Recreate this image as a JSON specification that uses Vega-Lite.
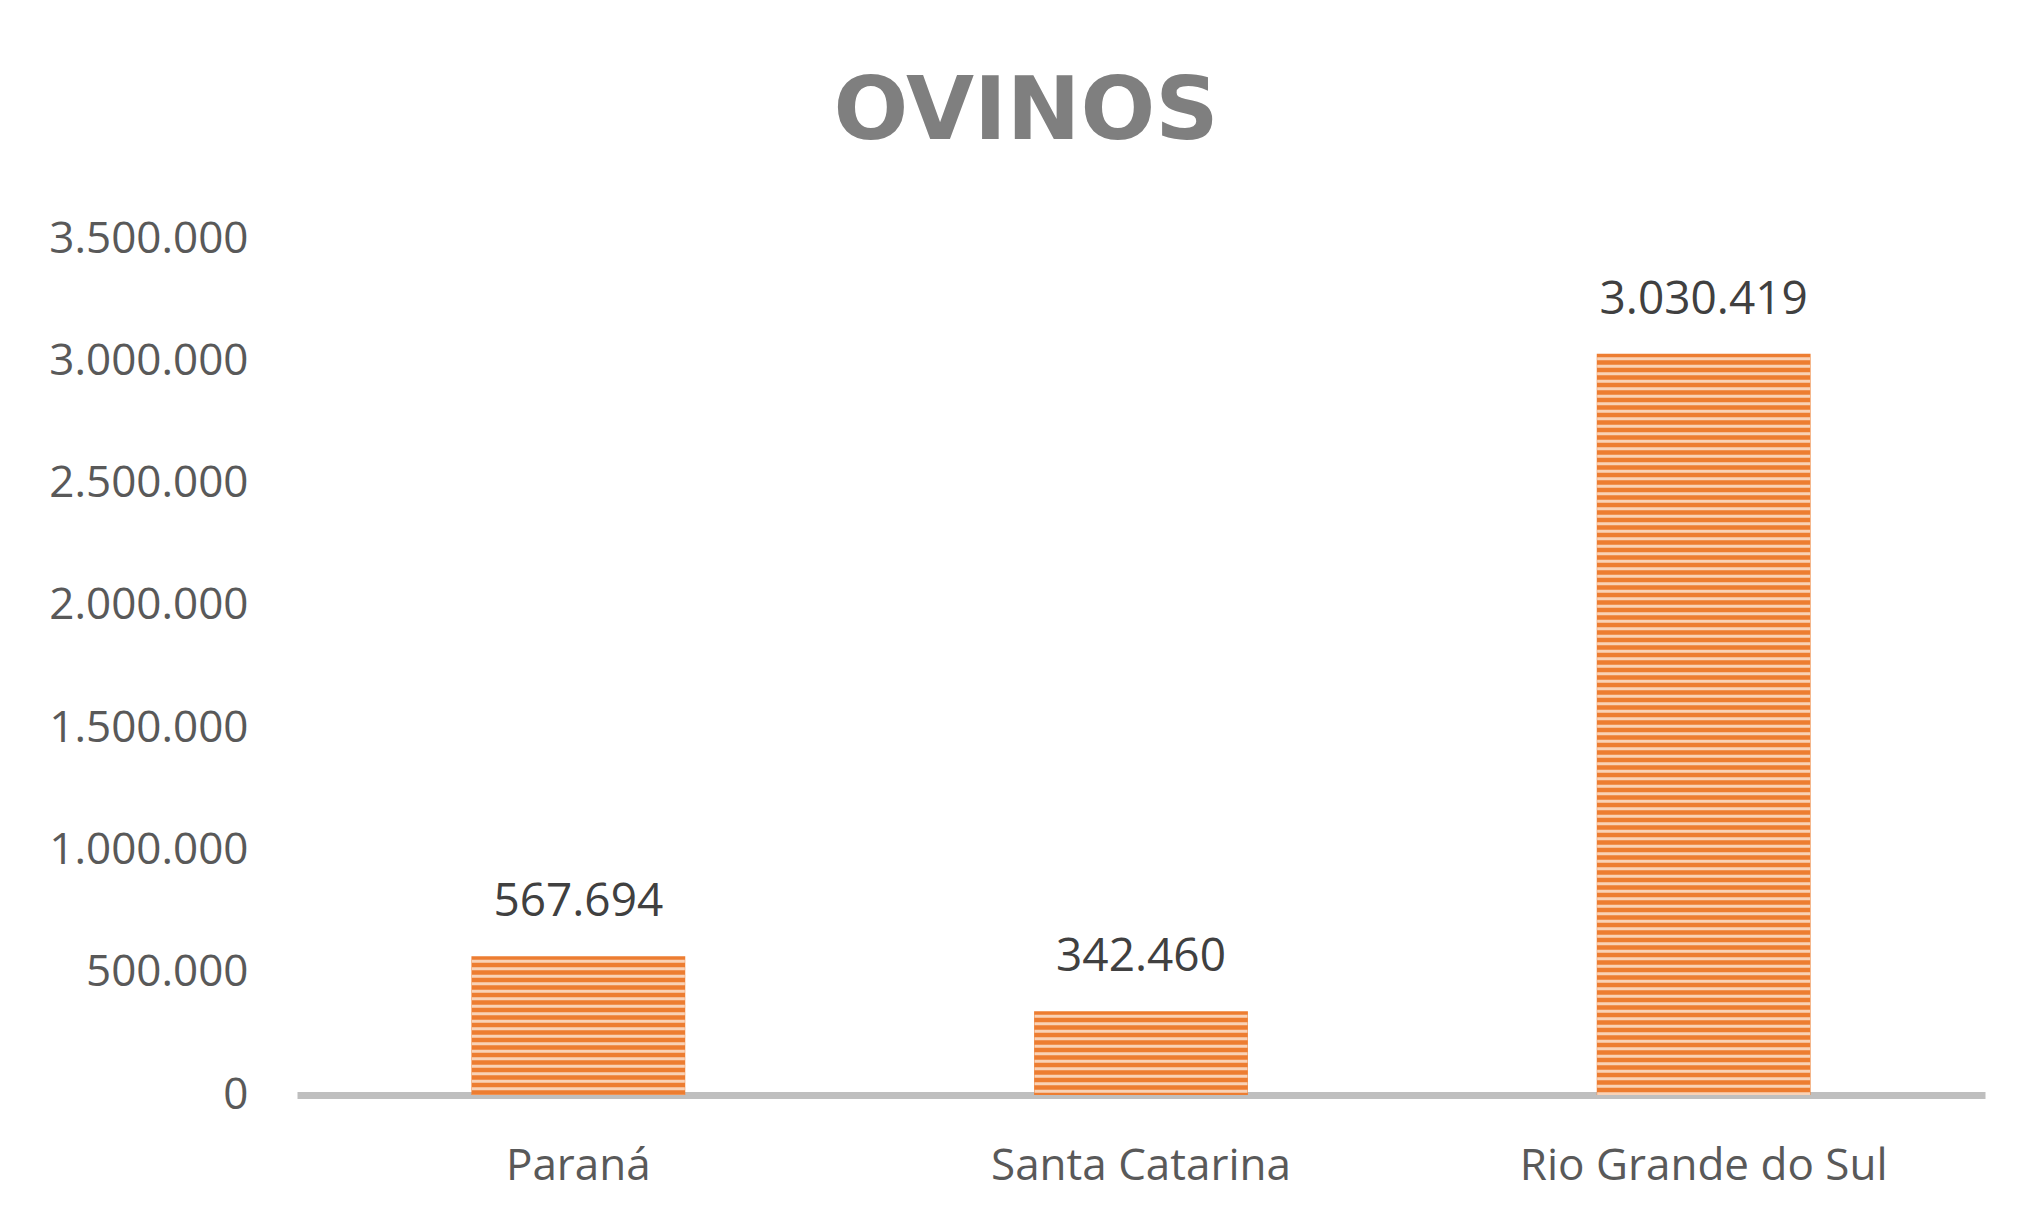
{
  "$schema": "https://vega.github.io/schema/vega-lite/v6.json",
  "width": 1688,
  "height": 856,
  "autosize": {"type": "none"},
  "padding": {"left": 297, "top": 239, "right": 59, "bottom": 133},
  "background": "white",
  "config": {
    "locale": {"number": {"decimal": ",", "thousands": ".", "grouping": [3], "currency": ["R$ ", ""]}},
    "view": {"stroke": null},
    "font": "Open Sans"
  },
  "title": {
    "text": "OVINOS",
    "font": "DejaVu Sans",
    "fontSize": 88,
    "fontWeight": "bold",
    "color": "#7F7F7F",
    "anchor": "middle",
    "dx": -115,
    "offset": 60
  },
  "data": {
    "values": [
      {"estado": "Paraná", "ovinos": 567694},
      {"estado": "Santa Catarina", "ovinos": 342460},
      {"estado": "Rio Grande do Sul", "ovinos": 3030419}
    ]
  },
  "encoding": {
    "x": {
      "field": "estado",
      "type": "nominal",
      "sort": null,
      "scale": {"paddingInner": 0.62, "paddingOuter": 0.31},
      "axis": {
        "title": null,
        "ticks": false,
        "labelAngle": 0,
        "labelLimit": 0,
        "domainColor": "#BFBFBF",
        "domainWidth": 7,
        "labelFont": "Open Sans",
        "labelFontSize": 44,
        "labelColor": "#595959",
        "labelPadding": 49
      }
    },
    "y": {
      "field": "ovinos",
      "type": "quantitative",
      "scale": {"domain": [0, 3500000], "nice": false},
      "axis": {
        "title": null,
        "domain": false,
        "ticks": false,
        "grid": false,
        "labelLimit": 0,
        "values": [0, 500000, 1000000, 1500000, 2000000, 2500000, 3000000, 3500000],
        "format": ",d",
        "labelFont": "Open Sans",
        "labelFontSize": 44,
        "labelColor": "#595959",
        "labelPadding": 49
      }
    }
  },
  "layer": [
    {"mark": {"type": "bar", "color": "#ED7D31"}},
    {
      "mark": {"type": "rule", "strokeWidth": 213, "strokeDash": [3, 4.5], "strokeDashOffset": 4, "color": "#F9D2B6", "strokeCap": "butt"},
      "encoding": {"y2": {"datum": 0}}
    },
    {
      "mark": {"type": "text", "baseline": "alphabetic", "dy": -40, "fontSize": 46, "color": "#404040", "font": "Open Sans"},
      "encoding": {"text": {"field": "ovinos", "type": "quantitative", "format": ",d"}}
    }
  ]
}
